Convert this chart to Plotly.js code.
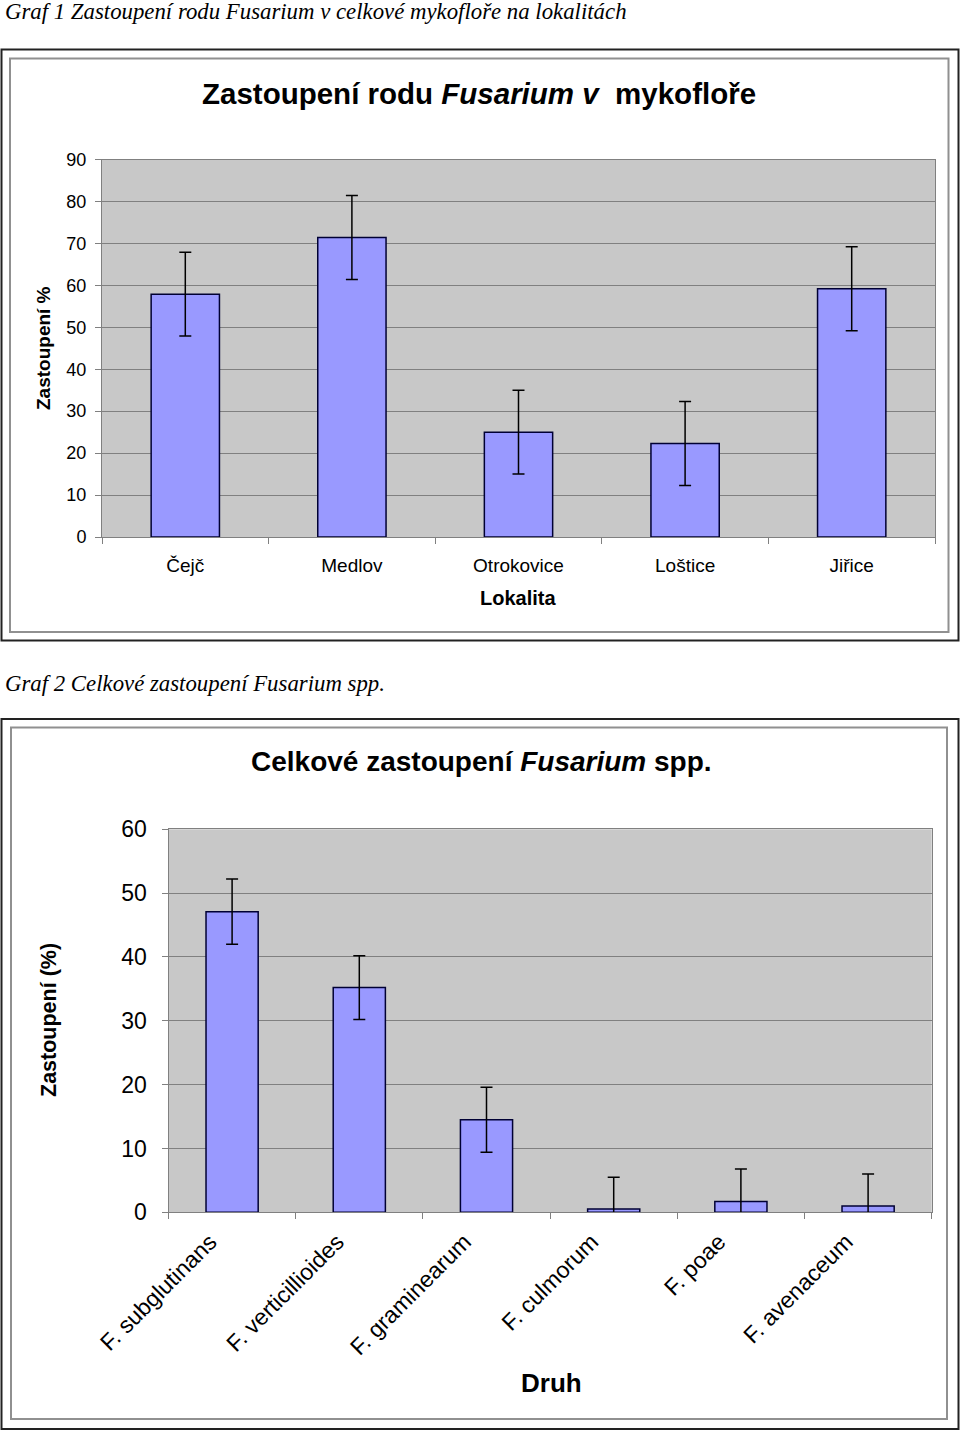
<!DOCTYPE html>
<html>
<head>
<meta charset="utf-8">
<script src="https://cdn.plot.ly/plotly-3.0.1.min.js"></script>
<style>html,body{margin:0;padding:0;background:#fff;}#chart{width:960px;height:1432px;}</style>
</head>
<body>
<div id="chart"></div>
<script>
// ---- Data: Graf 1 ----
const localities = ["Čejč", "Medlov", "Otrokovice", "Loštice", "Jiřice"];
const localityShare = [57.9, 71.4, 25.0, 22.3, 59.2];
const localityErr = [10, 10, 10, 10, 10];

// ---- Data: Graf 2 ----
const species = ["F. subglutinans", "F. verticillioides", "F. graminearum", "F. culmorum", "F. poae", "F. avenaceum"];
const speciesShare = [47.1, 35.2, 14.5, 0.5, 1.7, 1.0];
const speciesErr = [5.1, 5.0, 5.1, 5.0, 5.1, 5.0];

const W = 960, H = 1432;
const X = p => p / W;
const Y = p => 1 - p / H;

const sans = "Liberation Sans, Arial, sans-serif";
const serif = "Liberation Serif, Times New Roman, serif";
const barFill = "#9999ff";
const barLine = "#000033";
const axisGray = "#808080";

const traces = [
  {
    type: "bar", x: localities, y: localityShare, xaxis: "x", yaxis: "y",
    width: 0.41,
    marker: {color: barFill, line: {color: barLine, width: 1.5}},
    error_y: {type: "data", array: localityErr, visible: true, color: "#000", thickness: 1.5, width: 6},
    hoverinfo: "none", showlegend: false
  },
  {
    type: "bar", x: species, y: speciesShare, xaxis: "x2", yaxis: "y2",
    width: 0.41,
    marker: {color: barFill, line: {color: barLine, width: 1.5}},
    error_y: {type: "data", array: speciesErr, visible: true, color: "#000", thickness: 1.5, width: 6},
    hoverinfo: "none", showlegend: false
  }
];

function rectShape(x0, y0, x1, y1, color, w) {
  return {type: "rect", xref: "paper", yref: "paper", x0: X(x0), x1: X(x1), y0: Y(y0), y1: Y(y1),
          line: {color: color, width: w}, fillcolor: "rgba(0,0,0,0)", layer: "below"};
}

const layout = {
  width: W, height: H,
  margin: {l: 0, r: 0, t: 0, b: 0},
  paper_bgcolor: "#ffffff",
  plot_bgcolor: "#c8c8c8",
  font: {family: sans, color: "#000"},
  bargap: 0.59,
  xaxis: {
    domain: [X(102), X(935)], anchor: "y",
    showline: true, linecolor: axisGray, linewidth: 1, mirror: true,
    ticks: "outside", tickson: "boundaries", ticklen: 6, tickcolor: axisGray,
    tickfont: {family: sans, size: 19, color: "#000"}, ticklabelstandoff: 11,
    showgrid: false, fixedrange: true
  },
  yaxis: {
    domain: [Y(537), Y(159.5)], anchor: "x",
    range: [0, 90], dtick: 10, tick0: 0,
    showline: true, linecolor: axisGray, linewidth: 1, mirror: true,
    ticks: "outside", ticklen: 6, tickcolor: axisGray,
    gridcolor: axisGray, gridwidth: 1, zeroline: false,
    tickfont: {family: sans, size: 18, color: "#000"}, ticklabelstandoff: 5,
    fixedrange: true
  },
  xaxis2: {
    domain: [X(168.5), X(931.7)], anchor: "y2",
    showline: true, linecolor: axisGray, linewidth: 1, mirror: true,
    ticks: "outside", tickson: "boundaries", ticklen: 6, tickcolor: axisGray,
    tickangle: -45,
    tickfont: {family: sans, size: 23, color: "#000"}, ticklabelstandoff: 6,
    ticklabelshift: -22,
    showgrid: false, fixedrange: true
  },
  yaxis2: {
    domain: [Y(1212.3), Y(829.3)], anchor: "x2",
    range: [0, 60], dtick: 10, tick0: 0,
    showline: true, linecolor: axisGray, linewidth: 1, mirror: true,
    ticks: "outside", ticklen: 6, tickcolor: axisGray,
    gridcolor: axisGray, gridwidth: 1, zeroline: false,
    tickfont: {family: sans, size: 23, color: "#000"}, ticklabelstandoff: 10,
    fixedrange: true
  },
  shapes: [
    rectShape(1.5, 49.5, 958.5, 640.5, "#222", 2),
    rectShape(10, 58.5, 948.5, 632, "#909090", 2),
    rectShape(1.5, 719, 958.5, 1429, "#222", 2),
    rectShape(11, 727.5, 947, 1419, "#909090", 2)
  ],
  annotations: [
    {xref: "paper", yref: "paper", x: X(3), y: Y(12), xanchor: "left", yanchor: "middle", showarrow: false,
     text: "<i>Graf 1 Zastoupení rodu Fusarium v celkové mykofloře na lokalitách</i>",
     font: {family: serif, size: 22.8, color: "#000"}},
    {xref: "paper", yref: "paper", x: X(479), y: Y(93), xanchor: "center", yanchor: "middle", showarrow: false,
     text: "<b>Zastoupení rodu <i>Fusarium v</i>  mykofloře</b>",
     font: {family: sans, size: 29.5, color: "#000"}},
    {xref: "paper", yref: "paper", x: X(44), y: Y(348), xanchor: "center", yanchor: "middle", showarrow: false,
     textangle: -90, text: "<b>Zastoupení %</b>",
     font: {family: sans, size: 19, color: "#000"}},
    {xref: "paper", yref: "paper", x: X(518), y: Y(598), xanchor: "center", yanchor: "middle", showarrow: false,
     text: "<b>Lokalita</b>",
     font: {family: sans, size: 20, color: "#000"}},
    {xref: "paper", yref: "paper", x: X(3), y: Y(683), xanchor: "left", yanchor: "middle", showarrow: false,
     text: "<i>Graf 2 Celkové zastoupení Fusarium spp.</i>",
     font: {family: serif, size: 22.8, color: "#000"}},
    {xref: "paper", yref: "paper", x: X(481), y: Y(762), xanchor: "center", yanchor: "middle", showarrow: false,
     text: "<b>Celkové zastoupení <i>Fusarium</i> spp.</b>",
     font: {family: sans, size: 28, color: "#000"}},
    {xref: "paper", yref: "paper", x: X(49), y: Y(1020), xanchor: "center", yanchor: "middle", showarrow: false,
     textangle: -90, text: "<b>Zastoupení (%)</b>",
     font: {family: sans, size: 21.5, color: "#000"}},
    {xref: "paper", yref: "paper", x: X(551), y: Y(1383), xanchor: "center", yanchor: "middle", showarrow: false,
     text: "<b>Druh</b>",
     font: {family: sans, size: 26, color: "#000"}}
  ]
};

Plotly.newPlot("chart", traces, layout, {displayModeBar: false, staticPlot: true});
</script>
</body>
</html>
